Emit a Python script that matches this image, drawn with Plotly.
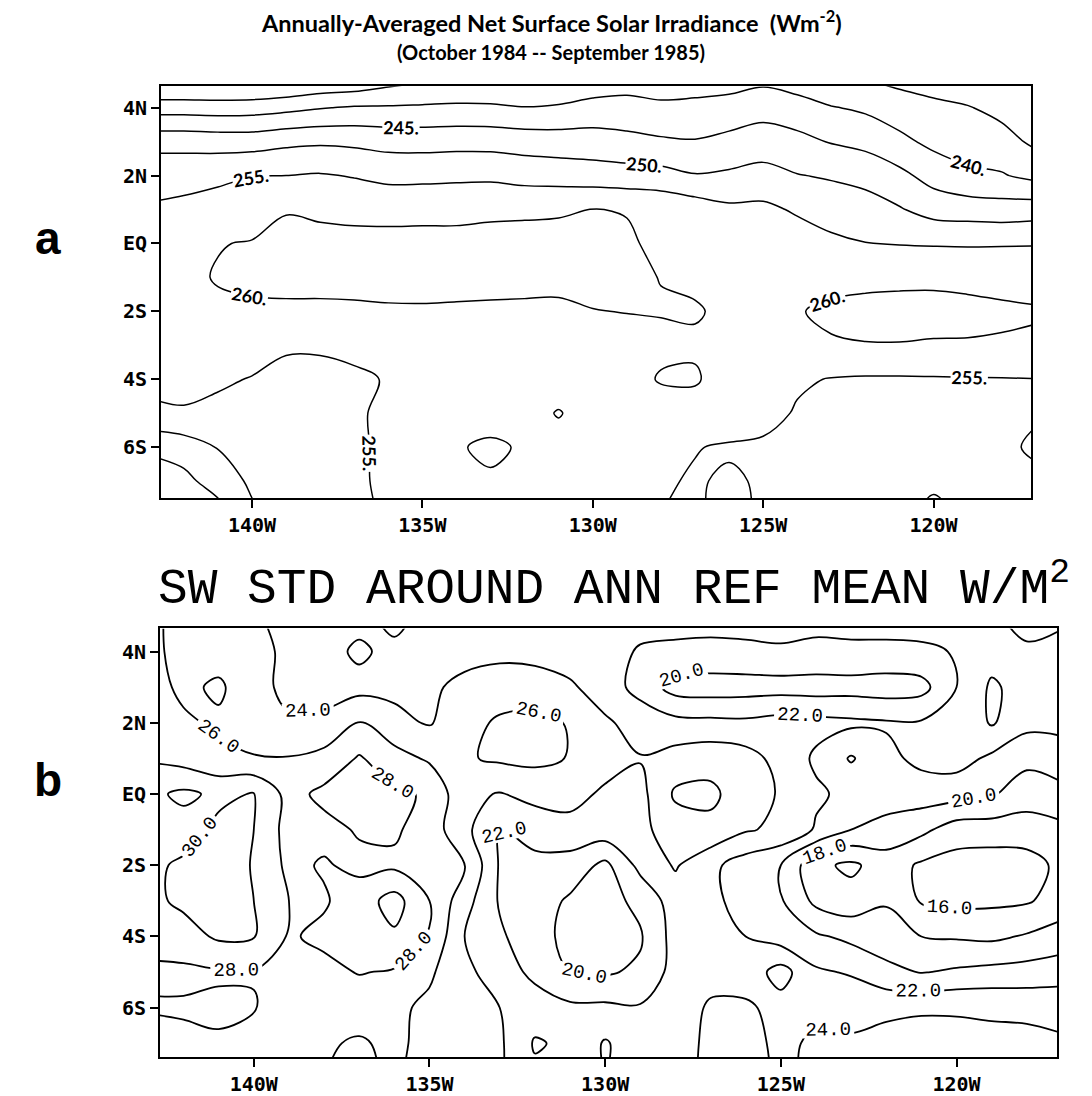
import plotly.graph_objects as go

# ---------------- shared grid ----------------
LONS = [-143, -142, -141, -140, -139, -138, -137, -136, -135, -134, -133, -132, -131, -130,
        -129, -128, -127, -126, -125, -124, -123, -122, -121, -120, -119, -118, -117]
LATS = [5, 4, 3, 2, 1, 0, -1, -2, -3, -4, -5, -6, -7, -8]

X_TICKS = [-140, -135, -130, -125, -120]
X_LABELS = ['140W', '135W', '130W', '125W', '120W']
Y_TICKS = [4, 2, 0, -2, -4, -6]
Y_LABELS = ['4N', '2N', 'EQ', '2S', '4S', '6S']

# ---------------- panel a : net surface solar irradiance (W m-2) ----------------
A_N5 = [226, 226, 226, 226, 227, 228.5, 229, 231.5, 233, 234, 234, 233.5, 233.5, 235.5, 237.1, 236.6, 237.1, 237.1, 238, 236.9, 234.5, 234, 233, 232, 231, 229, 224]
A_N4 = [237.8, 237.8, 237.6, 237.8, 238.6, 239.7, 240.5, 240.5, 240.7, 240.9, 240.8, 240.2, 240.7, 241.8, 241.7, 241.0, 241.2, 241.9, 243.1, 241.9, 240.3, 239.2, 237.4, 236.2, 235.3, 233.6, 228.0]
A_N3 = [248.3, 248.3, 247.9, 247.9, 248.9, 249.3, 249.0, 248.3, 248.2, 248.4, 248.3, 247.8, 247.4, 247.2, 246.5, 245.7, 245.3, 246.4, 247.5, 246.5, 244.7, 243.6, 241.2, 238.8, 237.8, 236.8, 234.0]
A_N2 = [253.3, 253.3, 254.0, 254.9, 255.0, 255.4, 254.7, 253.7, 253.7, 253.9, 254.0, 253.2, 252.9, 252.4, 252.0, 251.7, 250.3, 250.8, 251.6, 250.2, 249.5, 248.5, 246.3, 243.1, 241.0, 240.4, 238.6]
A_N1 = [255.5, 256.2, 257.0, 257.5, 259.8, 259.4, 258.8, 258.7, 258.9, 259.1, 259.3, 259.3, 259.5, 260.1, 259.8, 259.0, 257.8, 256.0, 256.1, 254.4, 252.9, 252.1, 250.4, 248.1, 247.6, 247.2, 247.7]
A_EQ = [257.5, 258.8, 259.8, 260.3, 261.0, 261.0, 261.3, 261.3, 261.2, 261.0, 261.2, 261.5, 261.5, 261.3, 260.6, 259.0, 259.0, 258.5, 258.5, 257.5, 256.0, 255.1, 254.8, 254.6, 254.5, 254.6, 254.7]
A_S1 = [258.5, 259.0, 260.3, 260.9, 261.0, 261.0, 261.0, 261.2, 261.0, 261.0, 261.0, 261.0, 261.0, 261.1, 260.8, 259.9, 259.4, 259.0, 259.2, 258.8, 259.0, 259.3, 259.4, 259.5, 259.3, 259.0, 258.7]
A_S2 = [257.8, 258.5, 259.2, 259.3, 259.4, 259.4, 259.5, 259.6, 259.7, 259.6, 259.5, 259.4, 259.3, 259.9, 260.1, 260.3, 260.3, 259.3, 259.5, 259.8, 260.6, 260.8, 260.9, 260.8, 260.7, 260.5, 260.3]
A_S3 = [257.0, 257.5, 257.8, 256.8, 255.3, 255.3, 256.2, 257.2, 257.8, 258.0, 258.0, 258.0, 258.0, 258.3, 258.5, 258.7, 259.5, 259.2, 258.8, 259.0, 259.7, 259.9, 259.9, 259.8, 259.8, 259.7, 259.5]
A_S4 = [256.0, 256.3, 255.6, 254.8, 254.3, 254.3, 254.2, 255.3, 256.5, 257.0, 257.3, 257.4, 257.5, 257.6, 257.6, 260.5, 260.4, 258.2, 257.5, 255.6, 254.8, 254.5, 254.5, 254.6, 254.7, 254.8, 254.9]
A_S5 = [254.2, 254.6, 254.0, 254.2, 254.2, 254.4, 254.6, 255.6, 256.6, 256.6, 256.5, 256.8, 254.7, 257.2, 257.2, 257.0, 258.4, 258.0, 256.5, 254.6, 254.4, 254.3, 254.4, 254.5, 254.6, 254.8, 254.8]
A_S6 = [246.0, 247.5, 250.2, 252.8, 253.8, 254.0, 254.5, 255.6, 256.8, 255.3, 254.4, 255.4, 256.8, 257.0, 257.0, 256.2, 255.2, 254.5, 254.3, 254.0, 253.8, 254.0, 254.2, 254.4, 254.5, 254.6, 255.3]
A_S7 = [242.0, 243.5, 247.5, 250.8, 253.0, 253.5, 254.4, 255.7, 257.0, 256.5, 255.4, 256.2, 257.0, 257.2, 256.8, 255.5, 254.6, 255.6, 254.5, 254.2, 254.0, 254.2, 254.4, 254.6, 254.5, 254.5, 254.6]
A_S8 = [240.0, 241.5, 242.5, 249.2, 252.0, 253.0, 254.0, 255.5, 257.0, 257.0, 256.5, 256.8, 257.0, 257.0, 256.8, 255.0, 254.5, 256.0, 254.5, 254.2, 254.0, 254.2, 254.4, 255.6, 254.6, 254.5, 254.6]

# ---------------- panel b : SW standard deviation (W m-2) ----------------
B_N5 = [26.6, 25.2, 24.6, 24.2, 23.4, 23.0, 23.2, 25.0, 23.0, 23.2, 23.6, 23.2, 23.0, 23.0, 22.8, 22.8, 22.6, 22.8, 23.0, 22.6, 22.8, 22.8, 22.8, 23.2, 23.6, 25.0, 24.6]
B_N4 = [26.5, 25.4, 25.2, 24.6, 23.6, 23.2, 24.4, 23.3, 23.5, 23.2, 23.5, 23.2, 23.0, 22.8, 21.8, 21.6, 21.6, 21.6, 21.7, 21.6, 21.6, 21.6, 21.7, 22.1, 23.2, 23.6, 23.0]
B_N3 = [26.8, 25.6, 26.3, 24.8, 23.4, 23.0, 23.3, 23.5, 23.6, 24.6, 25.0, 25.2, 24.3, 23.0, 21.3, 19.2, 19.0, 19.1, 19.2, 19.1, 19.2, 19.0, 19.3, 22.0, 24.3, 23.2, 22.8]
B_N2 = [26.8, 26.3, 25.7, 25.2, 24.3, 24.6, 26.2, 24.6, 23.8, 25.3, 26.3, 26.4, 25.9, 24.3, 23.2, 22.6, 22.5, 22.4, 22.8, 22.6, 22.4, 22.2, 22.2, 22.3, 24.2, 22.6, 22.6]
B_N1 = [27.8, 27.2, 26.4, 26.1, 26.1, 26.6, 28.2, 26.8, 25.7, 25.8, 26.3, 26.5, 25.9, 25.0, 24.1, 24.8, 25.3, 24.8, 23.3, 21.7, 19.8, 21.5, 22.5, 22.8, 21.6, 20.5, 21.0]
B_EQ = [29.5, 30.4, 29.6, 30.1, 27.3, 28.5, 28.5, 28.3, 27.8, 24.4, 23.9, 24.5, 24.8, 23.6, 23.4, 26.3, 26.4, 25.0, 23.8, 22.3, 21.5, 21.0, 21.0, 20.8, 20.2, 19.0, 19.5]
B_S1 = [29.8, 29.2, 30.4, 30.0, 27.2, 27.4, 28.2, 28.3, 27.0, 24.6, 21.8, 23.0, 23.2, 23.2, 23.5, 25.0, 25.5, 24.2, 23.6, 21.8, 20.0, 19.3, 18.5, 17.0, 17.0, 17.0, 17.5]
B_S2 = [29.6, 30.3, 30.8, 29.9, 27.5, 28.2, 27.5, 27.6, 27.4, 26.2, 21.8, 21.3, 21.2, 19.5, 22.6, 24.2, 22.5, 21.0, 20.0, 16.5, 15.6, 17.0, 15.7, 15.2, 15.0, 15.2, 16.5]
B_S3 = [29.5, 30.4, 31.0, 30.0, 28.0, 27.8, 29.0, 30.8, 28.0, 24.8, 21.8, 21.0, 19.7, 19.3, 20.5, 23.0, 22.5, 21.2, 20.2, 17.5, 16.8, 17.8, 15.8, 15.5, 15.6, 15.8, 16.8]
B_S4 = [28.8, 29.2, 30.3, 30.1, 27.8, 28.4, 29.2, 29.7, 27.8, 24.0, 22.3, 20.8, 19.4, 19.0, 19.8, 22.8, 22.8, 22.0, 21.0, 20.3, 19.5, 19.0, 18.0, 17.8, 17.6, 18.2, 19.0]
B_S5 = [27.6, 27.6, 27.8, 27.9, 27.6, 27.5, 28.1, 27.8, 26.3, 24.5, 23.0, 21.5, 20.0, 19.8, 20.3, 22.8, 23.2, 22.8, 24.8, 22.3, 21.8, 20.5, 19.9, 20.3, 20.6, 20.8, 21.0]
B_S6 = [28.2, 28.2, 28.3, 28.1, 27.2, 27.0, 26.8, 26.4, 25.6, 24.8, 24.0, 23.0, 22.4, 22.4, 22.2, 22.8, 24.3, 24.4, 23.2, 23.6, 23.5, 23.6, 23.7, 23.8, 23.7, 23.5, 23.5]
B_S7 = [27.0, 27.6, 27.8, 27.3, 26.8, 26.2, 25.8, 26.4, 25.4, 24.8, 24.3, 21.8, 22.4, 24.2, 22.8, 23.0, 24.5, 24.6, 23.6, 24.3, 24.2, 24.6, 25.0, 24.6, 24.5, 24.6, 24.2]
B_S8 = [26.8, 27.4, 27.6, 27.0, 26.6, 26.0, 25.7, 26.2, 25.3, 24.6, 24.2, 22.5, 22.6, 24.0, 23.0, 23.2, 24.5, 24.5, 23.8, 24.2, 24.4, 24.8, 25.2, 24.8, 24.6, 24.8, 24.4]

Z_A = [A_N5, A_N4, A_N3, A_N2, A_N1, A_EQ, A_S1, A_S2, A_S3, A_S4, A_S5, A_S6, A_S7, A_S8]
Z_B = [B_N5, B_N4, B_N3, B_N2, B_N1, B_EQ, B_S1, B_S2, B_S3, B_S4, B_S5, B_S6, B_S7, B_S8]

W, H = 1092, 1096
def px(x): return x / W
def py(y): return 1 - y / H

fig = go.Figure()

# panel a : unlabeled 235 line + labeled 240..260
fig.add_trace(go.Contour(x=LONS, y=LATS, z=Z_A, xaxis='x', yaxis='y', showscale=False,
                         contours=dict(start=235, end=235, size=5, coloring='none', showlabels=False),
                         line=dict(color='black', width=1.5, smoothing=1.0), hoverinfo='skip'))
fig.add_trace(go.Contour(x=LONS, y=LATS, z=Z_A, xaxis='x', yaxis='y', showscale=False,
                         contours=dict(start=240, end=260, size=5, coloring='none', showlabels=True,
                                       labelformat='.0f',
                                       labelfont=dict(family='Lato', size=18, color='black', weight='bold')),
                         line=dict(color='black', width=1.5, smoothing=1.0), hoverinfo='skip'))
# panel b
fig.add_trace(go.Contour(x=LONS, y=LATS, z=Z_B, xaxis='x2', yaxis='y2', showscale=False,
                         contours=dict(start=16, end=30, size=2, coloring='none', showlabels=True,
                                       labelformat='.1f',
                                       labelfont=dict(family='Liberation Mono', size=19, color='black')),
                         line=dict(color='black', width=1.8, smoothing=1.0), hoverinfo='skip'))

tickfont = dict(family='DejaVu Sans Mono', size=20, color='black', weight='bold')
axis_common = dict(showgrid=False, zeroline=False, showline=True, mirror=True, linewidth=2,
                   linecolor='black', ticks='outside', ticklen=8, tickwidth=2, tickcolor='black',
                   tickfont=tickfont)

fig.update_layout(
    width=W, height=H, margin=dict(l=0, r=0, t=0, b=0),
    paper_bgcolor='white', plot_bgcolor='white', showlegend=False,
    xaxis=dict(domain=[px(161), px(1031)], range=[-142.67, -117.14], tickvals=X_TICKS, ticktext=X_LABELS,
               anchor='y', **axis_common),
    yaxis=dict(domain=[py(502), py(87)], range=[-7.51, 4.63], tickvals=Y_TICKS, ticktext=Y_LABELS,
               anchor='x', **axis_common),
    xaxis2=dict(domain=[px(160), px(1057)], range=[-142.67, -117.14], tickvals=X_TICKS, ticktext=X_LABELS,
                anchor='y2', **axis_common),
    yaxis2=dict(domain=[py(1065), py(633)], range=[-7.39, 4.65], tickvals=Y_TICKS, ticktext=Y_LABELS,
                anchor='x2', **axis_common),
    annotations=[
        dict(text='Annually-Averaged Net Surface Solar Irradiance  (Wm<sup>-2</sup>)', x=px(551), y=py(22),
             xref='paper', yref='paper', showarrow=False, xanchor='center', yanchor='middle',
             font=dict(family='Lato', size=23.5, color='black', weight='bold')),
        dict(text='(October 1984 -- September 1985)', x=px(551), y=py(52),
             xref='paper', yref='paper', showarrow=False, xanchor='center', yanchor='middle',
             font=dict(family='Lato', size=20, color='black', weight='bold')),
        dict(text='SW STD AROUND ANN REF MEAN W/M<sup>2</sup>', x=px(156), y=py(590),
             xref='paper', yref='paper', showarrow=False, xanchor='left', yanchor='middle',
             font=dict(family='Liberation Mono', size=49.5, color='black')),
        dict(text='a', x=px(48), y=py(240), xref='paper', yref='paper', showarrow=False,
             xanchor='center', yanchor='middle',
             font=dict(family='Liberation Sans', size=46, color='black', weight='bold')),
        dict(text='b', x=px(48), y=py(786), xref='paper', yref='paper', showarrow=False,
             xanchor='center', yanchor='middle',
             font=dict(family='Liberation Sans', size=46, color='black', weight='bold')),
    ],
)

post = """
var gd = document.getElementById('{plot_id}');
gd.querySelectorAll('.contourlabels text').forEach(function(t){
  if (/^\\d{3}$/.test(t.textContent)) { t.textContent = t.textContent + '.'; }
});
"""
fig.write_html('out.html', post_script=post)
